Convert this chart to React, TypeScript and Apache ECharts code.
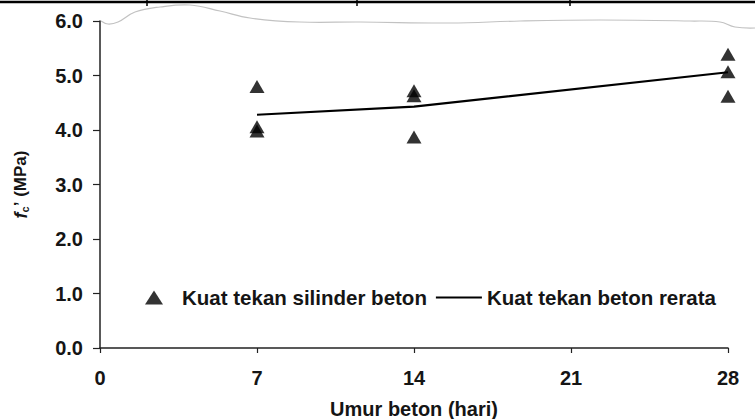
import React, { useEffect, useRef } from "react";
import * as echarts from "echarts";

const ageDays = [7, 14, 28];
const cylinderAge = [7, 7, 7, 14, 14, 14, 28, 28, 28];
const cylinderStrength = [4.8, 4.06, 3.98, 4.72, 4.63, 3.87, 5.39, 5.07, 4.62];
const meanStrength = [4.28, 4.43, 5.06];
const seriesNames = ["Kuat tekan silinder beton", "Kuat tekan beton rerata"];
const xName = "Umur beton (hari)";

const FONT = "'Liberation Sans', Arial, Helvetica, sans-serif";
const INK = "#151515";

export default function App() {
  const ref = useRef<HTMLDivElement>(null);
  useEffect(() => {
    if (!ref.current) return;
    const chart = echarts.init(ref.current, undefined, { renderer: "svg" });
    chart.setOption({
      animation: false,
      backgroundColor: "#ffffff",
      textStyle: { fontFamily: FONT },
      grid: { left: 100, right: 27, top: 21, bottom: 71, outerBoundsMode: "none" },
      xAxis: {
        type: "value",
        min: 0,
        max: 28,
        interval: 7,
        name: xName,
        nameLocation: "middle",
        nameGap: 51,
        nameTextStyle: { fontSize: 20, fontWeight: "bold", color: INK, fontFamily: FONT },
        axisLine: { show: true, lineStyle: { color: "#222", width: 1.5 } },
        axisTick: { show: true, length: 5, lineStyle: { color: "#222", width: 1.2 } },
        axisLabel: { fontSize: 20, fontWeight: "bold", color: INK, margin: 20, fontFamily: FONT },
        splitLine: { show: false },
      },
      yAxis: {
        type: "value",
        min: 0,
        max: 6,
        interval: 1,
        name: "{i|f}{s|c}{p|\u2019} (MPa)",
        nameLocation: "middle",
        nameGap: 70,
        nameTextStyle: {
          fontSize: 17,
          fontWeight: "bold",
          color: INK,
          fontFamily: FONT,
          rich: {
            i: { fontSize: 18, fontStyle: "italic", fontWeight: "bold", color: INK, fontFamily: FONT },
            s: { fontSize: 11, fontWeight: "bold", color: INK, fontFamily: FONT, verticalAlign: "bottom", padding: [8, 0, 0, 0] },
            p: { fontSize: 17, fontWeight: "bold", color: INK, fontFamily: FONT },
          },
        },
        axisLine: { show: true, lineStyle: { color: "#222", width: 1.5 } },
        axisTick: { show: true, length: 7, lineStyle: { color: "#222", width: 1.2 } },
        axisLabel: {
          fontSize: 20,
          fontWeight: "bold",
          color: INK,
          margin: 17,
          fontFamily: FONT,
          formatter: (v: number) => v.toFixed(1),
        },
        splitLine: { show: false },
      },
      legend: {
        left: 140,
        top: 282,
        itemWidth: 46,
        itemHeight: 14,
        itemGap: 9,
        symbolKeepAspect: true,
        textStyle: { fontSize: 20.5, fontWeight: "bold", color: INK, fontFamily: FONT },
        data: [
          { name: seriesNames[0], icon: "path://M9,0L18,14L0,14Z" },
          { name: seriesNames[1], icon: "path://M0,0H46V2H0Z" },
        ],
      },
      series: [
        {
          name: seriesNames[0],
          type: "scatter",
          symbol: "triangle",
          symbolSize: [15, 13],
          itemStyle: { color: "#000" },
          data: cylinderAge.map((d, i) => [d, cylinderStrength[i]]),
          z: 3,
        },
        {
          name: seriesNames[1],
          type: "line",
          showSymbol: false,
          symbol: "none",
          itemStyle: { color: "#000" },
          lineStyle: { color: "#000", width: 2.2 },
          data: ageDays.map((d, i) => [d, meanStrength[i]]),
          z: 2,
        },
      ],
      graphic: [
        { type: "line", shape: { x1: 0, y1: 2, x2: 755, y2: 2 }, style: { stroke: "#000", lineWidth: 2.5 } },
        { type: "line", shape: { x1: 147, y1: 0, x2: 147, y2: 6 }, style: { stroke: "#000", lineWidth: 1.5 } },
        { type: "line", shape: { x1: 357, y1: 0, x2: 357, y2: 6 }, style: { stroke: "#000", lineWidth: 1.5 } },
        { type: "line", shape: { x1: 570, y1: 0, x2: 570, y2: 6 }, style: { stroke: "#000", lineWidth: 1.5 } },
        {
          type: "polyline",
          shape: {
            smooth: 0.4,
            points: [
              [101, 21], [108, 24], [118, 22], [135, 12], [160, 7], [190, 5], [220, 11],
              [250, 18], [300, 22], [360, 22], [450, 23], [520, 21], [600, 20], [690, 21],
              [720, 22], [735, 27], [755, 28],
            ],
          },
          style: { stroke: "#c2c2c2", lineWidth: 1.2, fill: null },
        },
      ],
    });
    return () => chart.dispose();
  }, []);
  return (
    <div
      ref={ref}
      style={{ position: "fixed", left: 0, top: 0, width: 755, height: 419, background: "#fff" }}
    />
  );
}
